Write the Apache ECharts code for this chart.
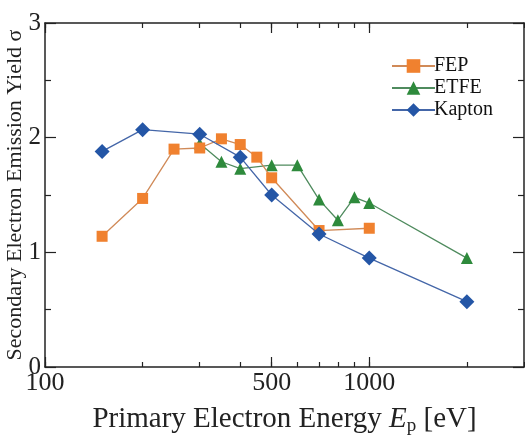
<!DOCTYPE html>
<html><head><meta charset="utf-8">
<script src="https://cdn.jsdelivr.net/npm/echarts@6/dist/echarts.min.js"></script>
<style>html,body{margin:0;padding:0;background:#fff}#c{width:525px;height:437px}</style>
</head><body><div id="c"></div>
<script>
const fepEnergy = [150,200,250,300,350,400,450,500,700,1000];
const fepYield = [1.14,1.47,1.90,1.91,1.99,1.94,1.83,1.65,1.19,1.21];
const etfeEnergy = [300,350,400,500,600,700,800,900,1000,2000];
const etfeYield = [1.95,1.79,1.73,1.76,1.76,1.46,1.28,1.48,1.43,0.95];
const kaptonEnergy = [150,200,300,400,500,700,1000,2000];
const kaptonYield = [1.88,2.07,2.03,1.83,1.50,1.16,0.95,0.57];
const xMinorTicks = [100,200,300,400,500,600,700,800,900,1000,2000,3000];
const xMajorTicks = [100,500,1000];
const xTickLabels = ['100','500','1000'];
const yTickLabels = ['0','1','2','3'];

const FONT = '"Liberation Serif","DejaVu Serif",serif';
const zip = (xs, ys) => xs.map((x, i) => [x, ys[i]]);
const lg = v => Math.log10(v);
const X_MIN = 100, X_MAX = 3000;
const AX = '#222';

function tickAxis(position, values, len, labels) {
  return {
    type: 'value', position: position, min: lg(X_MIN), max: lg(X_MAX),
    axisLine: {show: false},
    axisTick: {show: true, inside: true, length: len, customValues: values.map(lg),
      lineStyle: {color: AX, width: 1.2}},
    axisLabel: labels ? {
      show: true, customValues: xMajorTicks.map(lg), margin: 3,
      formatter: v => { const i = xMajorTicks.findIndex(t => Math.abs(lg(t) - v) < 1e-6); return i >= 0 ? xTickLabels[i] : ''; },
      fontFamily: FONT, fontSize: 26, color: AX
    } : {show: false},
    splitLine: {show: false}
  };
}

const chart = echarts.init(document.getElementById('c'));
chart.setOption({
  animation: false,
  backgroundColor: '#fff',
  grid: {left: 45, right: 1, top: 23, bottom: 70, containLabel: false, outerBoundsMode: 'none'},
  legend: {
    orient: 'vertical', left: 386, top: 51, itemWidth: 43, itemHeight: 17, itemGap: 2,
    textStyle: {fontFamily: FONT, fontSize: 20, color: '#111', lineHeight: 17, padding: [0, 0, 0, -6]},
    data: ['FEP', 'ETFE', 'Kapton']
  },
  xAxis: [
    {
      type: 'log', logBase: 10, min: X_MIN, max: X_MAX, position: 'bottom',
      axisLine: {show: true, lineStyle: {color: AX, width: 1.5}},
      axisTick: {show: false}, axisLabel: {show: false}, splitLine: {show: false},
      name: 'Primary Electron Energy {i|E}{s|p} [eV]', nameLocation: 'middle', nameGap: 35,
      nameMoveOverlap: false,
      nameTextStyle: {
        fontFamily: FONT, fontSize: 29, color: AX, lineHeight: 34,
        rich: {
          i: {fontFamily: FONT, fontSize: 29, fontStyle: 'italic', color: AX, lineHeight: 34},
          s: {fontFamily: FONT, fontSize: 19, color: AX, lineHeight: 14, verticalAlign: 'bottom'}
        }
      }
    },
    tickAxis('bottom', xMinorTicks, 5, true),
    tickAxis('bottom', xMajorTicks, 10, false),
    Object.assign(tickAxis('top', xMinorTicks, 5, false), {axisLine: {show: true, lineStyle: {color: AX, width: 1.5}}}),
    tickAxis('top', xMajorTicks, 10, false)
  ],
  yAxis: [
    {
      type: 'value', min: 0, max: 3, interval: 1, position: 'left',
      axisLine: {show: true, lineStyle: {color: AX, width: 1.5}},
      axisTick: {show: true, inside: true, length: 11, lineStyle: {color: AX, width: 1.2}},
      minorTick: {show: true, splitNumber: 2, length: 6, lineStyle: {color: AX, width: 1.2}},
      axisLabel: {fontFamily: FONT, fontSize: 25, color: AX, margin: 4,
        formatter: v => yTickLabels[Math.round(v)]},
      splitLine: {show: false},
      name: 'Secondary Electron Emission Yield σ', nameLocation: 'middle', nameGap: 19,
      nameMoveOverlap: false,
      nameTextStyle: {fontFamily: FONT, fontSize: 22, color: AX}
    },
    {
      type: 'value', min: 0, max: 3, interval: 1, position: 'right',
      axisLine: {show: true, lineStyle: {color: AX, width: 1.5}},
      axisTick: {show: true, inside: true, length: 11, lineStyle: {color: AX, width: 1.2}},
      minorTick: {show: true, splitNumber: 2, length: 6, lineStyle: {color: AX, width: 1.2}},
      axisLabel: {show: false}, splitLine: {show: false}
    }
  ],
  series: [
    {
      name: 'FEP', type: 'line', xAxisIndex: 0, yAxisIndex: 0, data: zip(fepEnergy, fepYield),
      symbol: 'rect', symbolSize: 11, itemStyle: {color: '#F0812F'},
      lineStyle: {color: '#D08A58', width: 1.3}, z: 3
    },
    {
      name: 'ETFE', type: 'line', xAxisIndex: 0, yAxisIndex: 0, data: zip(etfeEnergy, etfeYield),
      symbol: 'triangle', symbolSize: 12, itemStyle: {color: '#2E8A3C'},
      lineStyle: {color: '#4F8B5E', width: 1.3}, z: 2
    },
    {
      name: 'Kapton', type: 'line', xAxisIndex: 0, yAxisIndex: 0, data: zip(kaptonEnergy, kaptonYield),
      symbol: 'diamond', symbolSize: 15, itemStyle: {color: '#2456A6'},
      lineStyle: {color: '#4466A8', width: 1.3}, z: 4
    }
  ]
});
</script></body></html>
